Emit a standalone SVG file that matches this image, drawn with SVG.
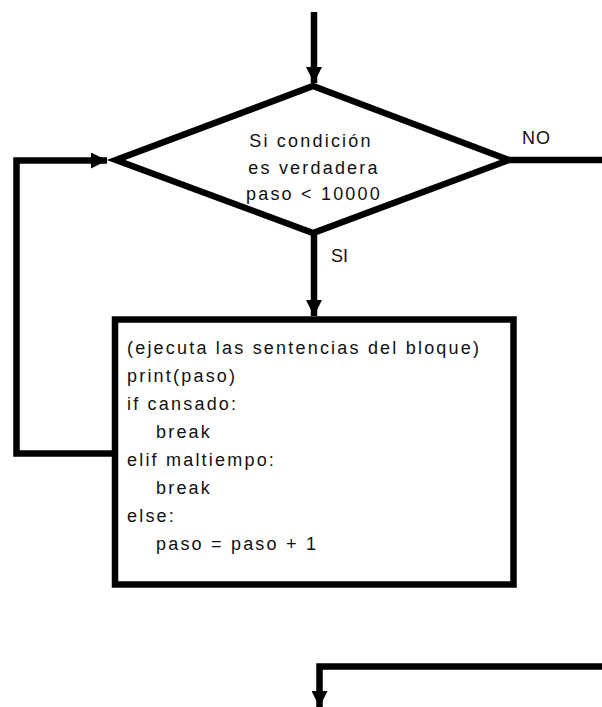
<svg xmlns="http://www.w3.org/2000/svg" width="602" height="707" viewBox="0 0 602 707">
<style>
.ln{fill:none;stroke:#000;stroke-width:6.5;stroke-linejoin:miter}
.sh{fill:#fff;stroke:#000;stroke-width:6.5;stroke-linejoin:miter}
text{font-family:"Liberation Sans",Arial,sans-serif;font-size:18px;fill:#111;letter-spacing:2.2px}
</style>
<defs>
<marker id="ah" viewBox="0 0 10 10" refX="10" refY="5" markerUnits="userSpaceOnUse" markerWidth="16" markerHeight="16" orient="auto">
<path d="M0,0 L10,5 L0,10 Z" fill="#000"/>
</marker>
</defs>
<g id="connectors">
<path class="ln" d="M314,12 V83" marker-end="url(#ah)"/>
<path class="ln" d="M508,160 H602"/>
<path class="ln" d="M314,233 V316" marker-end="url(#ah)"/>
<path class="ln" d="M115,453.5 H16.5 V160.5 H107" marker-end="url(#ah)"/>
<path class="ln" d="M602,666.5 H319.5 V707" marker-end="url(#ah)"/>
<text x="522" y="144" style="letter-spacing:1px">NO</text>
<text x="331" y="262" style="letter-spacing:0">SI</text>
</g>
<g id="decision">
<polygon class="sh" points="313,86 509,160 313,233 116,160"/>
<text x="311" y="147" text-anchor="middle">Si condición</text>
<text x="314" y="174" text-anchor="middle">es verdadera</text>
<text x="314" y="200" text-anchor="middle">paso &lt; 10000</text>
</g>
<g id="block">
<rect class="sh" x="115" y="319.5" width="398.5" height="265"/>
<text x="127" y="354">(ejecuta las sentencias del bloque)</text>
<text x="127" y="382">print(paso)</text>
<text x="127" y="410">if cansado:</text>
<text x="156" y="438">break</text>
<text x="127" y="466">elif maltiempo:</text>
<text x="156" y="493.5">break</text>
<text x="127" y="521.5">else:</text>
<text x="156" y="549.5">paso = paso + 1</text>
</g>
</svg>
